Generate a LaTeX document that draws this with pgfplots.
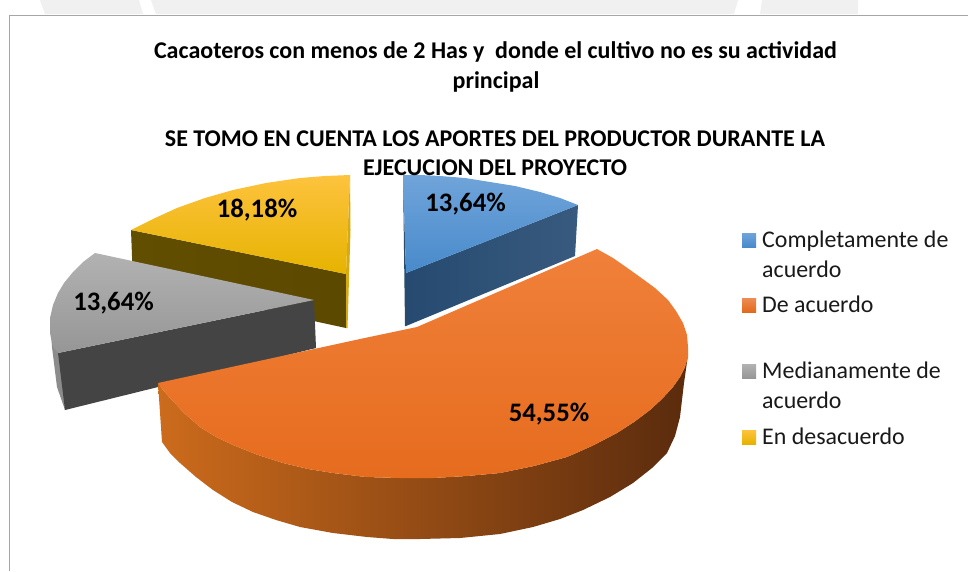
\documentclass[border=0pt]{standalone}
\usepackage{pgfplots}
\pgfplotsset{compat=1.18}
\usepackage{fontspec}
\setmainfont{Carlito}
\definecolor{band}{HTML}{F0F0F0}
\definecolor{frame}{HTML}{A6A6A6}
\newcommand{\ttl}[3]{\node[anchor=base,inner sep=0pt,font=\fontsize{24}{24}\selectfont\bfseries] at (axis cs:#1,#2) {#3};}
\newcommand{\lab}[3]{\node[anchor=base,inner sep=0pt,font=\fontsize{26.7}{26.7}\selectfont\bfseries] at (axis cs:#1,#2) {#3};}
\newcommand{\leg}[3]{\node[anchor=base west,inner sep=0pt,font=\fontsize{23.9}{23.9}\selectfont,text=black!90] at (axis cs:#1,#2) {#3};}
\begin{document}
\begin{tikzpicture}
\begin{axis}[scale only axis,width=968pt,height=571pt,xmin=0,xmax=968,ymin=0,ymax=571,y dir=reverse,hide axis]
% page area
\addplot[fill=white,draw=none] coordinates {(0,0)(968,0)(968,571)(0,571)(0,0)};
% background band and frame
\addplot[fill=band,draw=none] coordinates {(40,0)(139,0)(143,14)(45,14)(40,0)};
\addplot[fill=band,draw=none] coordinates {(151,0)(738,0)(734,14)(156,14)(151,0)};
\addplot[fill=band,draw=none] coordinates {(762,0)(858,0)(858,14)(760,14)(762,0)};
\addplot[draw=frame,line width=1pt] coordinates {(9,571)(9,15)(968,15)};
% yellow
\addplot[left color={rgb,255:red,98;green,78;blue,0},right color={rgb,255:red,92;green,73;blue,0},draw=none]
  coordinates {(131,230)(346,274)(346,328)(133,282)(131,230)};
\addplot[fill={rgb,255:red,215;green,170;blue,20},draw=none] coordinates {(350,175)(350.5,230)(347.5,328)(346,328)(346,274)(350,175)};
\addplot[top color={rgb,255:red,253;green,195;blue,62},middle color={rgb,255:red,252;green,196;blue,5},bottom color={rgb,255:red,230;green,179;blue,0},draw=none]
  coordinates {(350,175)(325,176)(300,178)(266,183)(233,190)(205,198)(177,208)(153,219)(131,230)(346,274)(350,175)};
% gray
\addplot[fill={rgb,255:red,140;green,140;blue,140},draw=none] coordinates {(50,318)(52,347)(57,387)(65,410)(66,360)(58,353)(50,318)};
\addplot[fill={rgb,255:red,68;green,68;blue,68},draw=none] coordinates {(58,353)(314,300)(316,348)(65,410)(58,353)};
\addplot[top color={rgb,255:red,178;green,178;blue,178},bottom color={rgb,255:red,150;green,150;blue,150},draw=none]
  coordinates {(95,253)(83,262)(73,272)(64,283)(58,293)(53,305)(50,318)(50,333)(53,347)(58,353)(314,300)(95,253)};
% blue
\addplot[left color={rgb,255:red,38;green,74;blue,112},right color={rgb,255:red,56;green,90;blue,126},draw=none]
  coordinates {(406,273)(578,205)(575,256)(406,326)(406,273)};
\addplot[fill={rgb,255:red,40;green,75;blue,110},draw=none] coordinates {(403,175)(406,273)(406,326)(405,326)(403,175)};
\addplot[top color={rgb,255:red,112;green,164;blue,218},middle color={rgb,255:red,88;green,153;blue,216},bottom color={rgb,255:red,72;green,138;blue,203},draw=none]
  coordinates {(403,175)(420,175)(440,176)(465,178)(490,182)(515,186)(540,192)(560,198)(578,205)(406,273)(403,175)};
% orange side, then top
\addplot[left color={rgb,255:red,204;green,107;blue,28},middle color={rgb,255:red,108;green,52;blue,14},right color={rgb,255:red,90;green,43;blue,13},draw=none]
  coordinates {(158,383)(163,390)(170,398)(184,413)(200,427)(216,437)(233,445)(258,455)(283,463)(308,469)(333,473)(366,477)(400,478)(433,478)(467,476)(500,473)(534,466)(567,457)(592,446)(617,433)(634,422)(650,410)(662,399)(673,387)(680,377)(685,367)(688,350)
  (687,362)(684,383)(682,400)(680,417)(675,436)(667,453)(652,468)(633,483)(610,497)(583,510)(560,519)(533,527)(500,534)(460,538)(420,539)(393,539)(367,537)(333,533)(300,527)(276,520)(253,512)(232,502)(213,490)(196,477)(180,463)(170,453)(162,442)(158,383)};
\addplot[top color={rgb,255:red,240;green,128;blue,58},middle color={rgb,255:red,244;green,122;blue,38},bottom color={rgb,255:red,230;green,108;blue,30},draw=none]
  coordinates {(158,383)(163,390)(170,398)(184,413)(200,427)(216,437)(233,445)(258,455)(283,463)(308,469)(333,473)(366,477)(400,478)(433,478)(467,476)(500,473)(534,466)(567,457)(592,446)(617,433)(634,422)(650,410)(662,399)(673,387)(680,377)(685,367)(688,358)(688,347)(687,335)(683,323)(676,311)(668,300)(655,288)(640,277)(626,267)(613,258)(597,249)(417,327)(360,339)(158,383)};
% legend keys
\addplot[top color={rgb,255:red,112;green,164;blue,218},bottom color={rgb,255:red,72;green,138;blue,203},draw=none] coordinates {(742,233)(756,233)(756,247)(742,247)(742,233)};
\addplot[top color={rgb,255:red,238;green,140;blue,84},bottom color={rgb,255:red,226;green,105;blue,28},draw=none] coordinates {(742,298)(756,298)(756,312)(742,312)(742,298)};
\addplot[top color={rgb,255:red,178;green,178;blue,178},bottom color={rgb,255:red,150;green,150;blue,150},draw=none] coordinates {(742,364)(756,364)(756,378)(742,378)(742,364)};
\addplot[top color={rgb,255:red,253;green,195;blue,62},bottom color={rgb,255:red,230;green,179;blue,0},draw=none] coordinates {(742,430)(756,430)(756,444)(742,444)(742,430)};
% text
\ttl{495.5}{58}{Cacaoteros con menos de 2 Has y\ \ donde el cultivo no es su actividad}
\ttl{496}{88}{principal}
\ttl{495}{146}{SE TOMO EN CUENTA LOS APORTES DEL PRODUCTOR DURANTE LA}
\ttl{495}{175}{EJECUCION DEL PROYECTO}
\lab{465.5}{211}{13,64\%}
\lab{257}{217}{18,18\%}
\lab{113.5}{310}{13,64\%}
\lab{549}{421}{54,55\%}
\leg{762}{247}{Completamente de}
\leg{762}{277}{acuerdo}
\leg{762}{312}{De acuerdo}
\leg{762}{378}{Medianamente de}
\leg{762}{408}{acuerdo}
\leg{762}{444}{En desacuerdo}
\end{axis}
\end{tikzpicture}
\end{document}
